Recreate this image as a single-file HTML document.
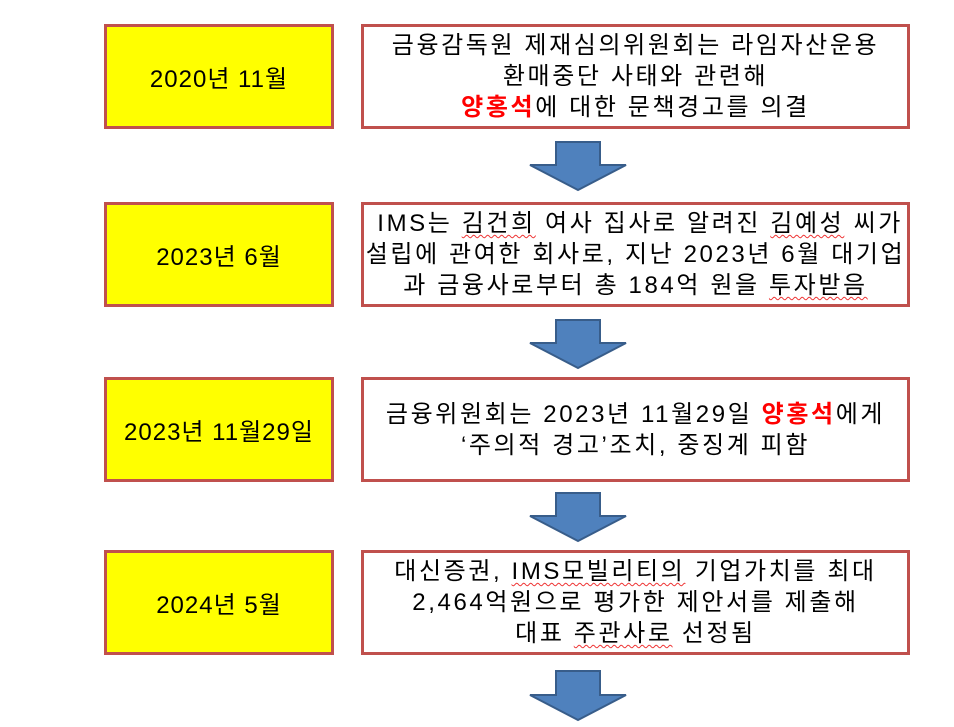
<!DOCTYPE html>
<html><head><meta charset="utf-8"><style>
body{margin:0;width:954px;height:727px;background:#fff;position:relative;overflow:hidden;font-family:"Liberation Sans","Noto Sans CJK KR",sans-serif;color:#000}
.y{position:absolute;left:104px;width:224px;height:99px;background:#ff0;border:3px solid #c0504d;display:flex;align-items:center;justify-content:center;font-size:24px;letter-spacing:1px}
.w{position:absolute;left:361px;width:543px;height:99px;background:#fff;border:3px solid #c0504d;display:flex;align-items:center;justify-content:center;text-align:center;font-size:24px;line-height:31px;white-space:nowrap;letter-spacing:2.6px}
.r{color:#f00;font-weight:bold}
.u{text-decoration:underline wavy #e33;text-decoration-thickness:1px;text-underline-offset:3px}
svg{position:absolute;left:526px}
</style></head><body>
<div class="y" style="top:24px">2020년 11월</div>
<div class="w" style="top:24px"><div>금융감독원 제재심의위원회는 라임자산운용<br>환매중단 사태와 관련해<br><span class="r">양홍석</span>에 대한 문책경고를 의결</div></div>
<svg style="top:140px" width="104" height="52"><polygon points="30,2 74,2 74,25 100,25 52,50 4,25 30,25" fill="#4f81bd" stroke="#385d8a" stroke-width="2"/></svg>

<div class="y" style="top:202px">2023년 6월</div>
<div class="w" style="top:202px"><div>&nbsp;IMS는 <span class="u">김건희</span> 여사 집사로 알려진 <span class="u">김예성</span> 씨가<br>설립에 관여한 회사로, 지난 2023년 6월 대기업<br>과 금융사로부터 총 184억 원을 <span class="u">투자받음</span></div></div>
<svg style="top:318px" width="104" height="52"><polygon points="30,2 74,2 74,25 100,25 52,50 4,25 30,25" fill="#4f81bd" stroke="#385d8a" stroke-width="2"/></svg>

<div class="y" style="top:377px">2023년 11월29일</div>
<div class="w" style="top:377px"><div>금융위원회는 2023년 11월29일 <span class="r">양홍석</span>에게<br>‘주의적 경고’조치, 중징계 피함</div></div>
<svg style="top:491px" width="104" height="52"><polygon points="30,2 74,2 74,25 100,25 52,50 4,25 30,25" fill="#4f81bd" stroke="#385d8a" stroke-width="2"/></svg>

<div class="y" style="top:550px">2024년 5월</div>
<div class="w" style="top:550px"><div>대신증권, <span class="u">IMS모빌리티의</span> 기업가치를 최대<br>2,464억원으로 평가한 제안서를 제출해<br>대표 <span class="u">주관사로</span> 선정됨</div></div>
<svg style="top:669px" width="104" height="54"><polygon points="30,2 74,2 74,26 100,26 52,51 4,26 30,26" fill="#4f81bd" stroke="#385d8a" stroke-width="2"/></svg>
</body></html>
